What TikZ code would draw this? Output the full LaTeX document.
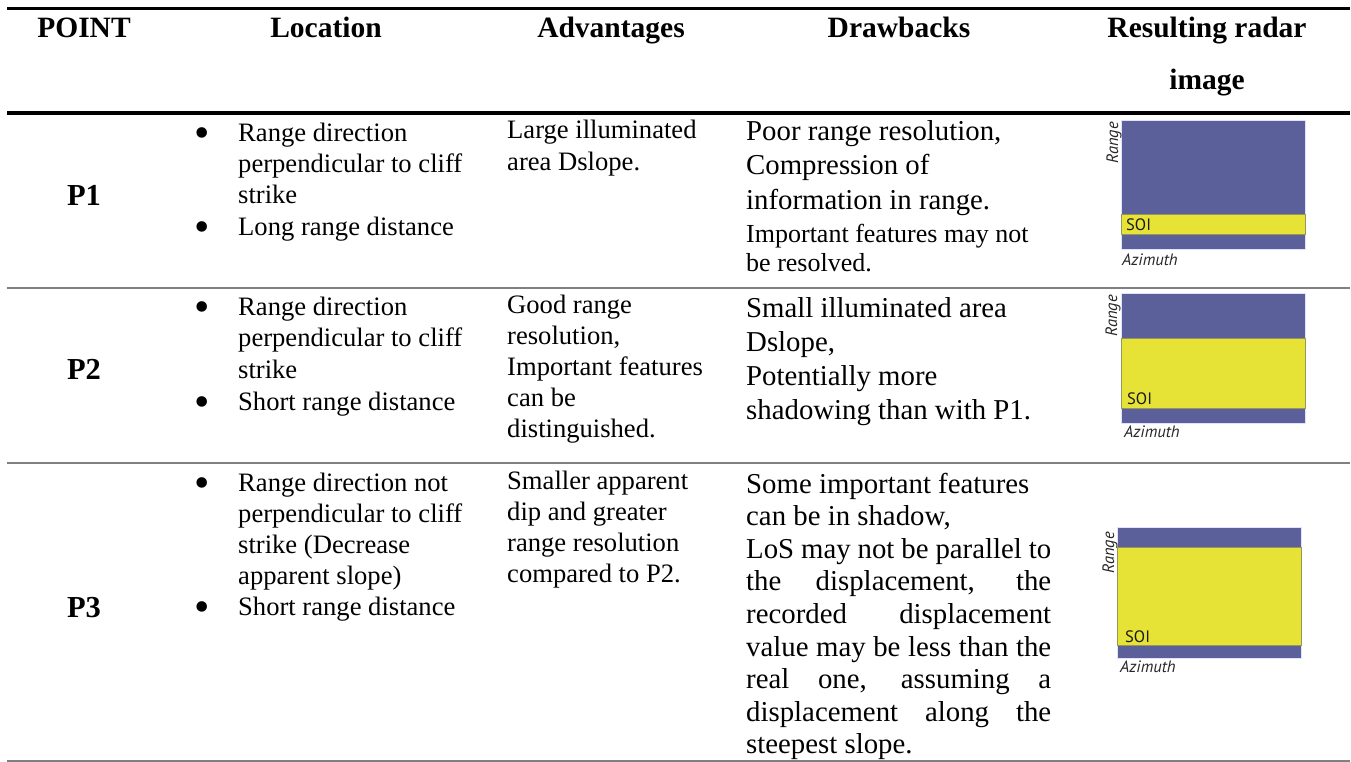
\documentclass[tikz,border=0pt]{standalone}
\usepackage{fontspec}
\setmainfont{Liberation Serif}
\newfontfamily\radarfont{PT Sans}
\definecolor{radarblue}{RGB}{91,96,155}
\definecolor{soiyellow}{RGB}{230,226,54}
\definecolor{rulegray}{RGB}{128,128,128}
\definecolor{bandline}{RGB}{150,150,90}
\tikzset{
  hdr/.style={font=\fontsize{29.5}{50}\selectfont\bfseries, anchor=base, inner sep=0},
  ptlabel/.style={font=\fontsize{30.5}{32}\selectfont\bfseries, anchor=base, inner sep=0},
  cell/.style={font=\fontsize{26.6}{31.4}\selectfont, anchor=base west, inner sep=0, align=left},
  dcell/.style={font=\fontsize{28.8}{34}\selectfont, anchor=base west, inner sep=0, align=left},
  bul/.style={font=\fontsize{44}{44}\selectfont, anchor=center, inner sep=0},
  thickrule/.style={line width=3.5pt},
  thinrule/.style={line width=2pt, draw=rulegray},
  radarbg/.style={fill=radarblue, draw=blue!12!white, line width=0.6pt},
  soiband/.style={fill=soiyellow, draw=bandline, line width=0.5pt},
  rlabel/.style={font=\radarfont\itshape\fontsize{16.5}{16.5}\selectfont, inner sep=0, text=black!85},
  soilabel/.style={font=\radarfont\fontsize{16.5}{16.5}\selectfont, inner sep=0, anchor=base west, text=black!90},
}
\begin{document}
\begin{tikzpicture}[x=1pt,y=-1pt]
\useasboundingbox (0,0) rectangle (1351,762);
% rules
\draw[thickrule] (7,8.5) -- (1350,8.5);
\draw[thickrule] (7,113) -- (1350,113);
\draw[thinrule] (7,288) -- (1350,288);
\draw[thinrule] (7,463) -- (1350,463);
\draw[thinrule] (7,761) -- (1350,761);
% header
\node[hdr] (hPoint) at (84,38) {POINT};
\node[hdr] (hLoc) at (326,38) {Location};
\node[hdr] (hAdv) at (611,38) {Advantages};
\node[hdr] (hDra) at (899,38) {Drawbacks};
\node[hdr] (hResA) at (1207,38) {Resulting radar};
\node[hdr] (hResB) at (1207,90) {image};
% row 1 (multi-line nodes are anchored at the baseline of their last line)
\node[ptlabel] (p1) at (84,205) {P1};
\node[bul] (b11) at (202,138) {\textbullet};
\node[bul] (b12) at (202,232) {\textbullet};
\node[cell] (loc1) at (238,235.2) {Range direction\\perpendicular to cliff\\strike\\Long range distance};
\node[cell, font=\fontsize{26.6}{32}\selectfont] (adv1) at (507,171) {Large illuminated\\area Dslope.};
\node[dcell, font=\fontsize{28.8}{34.5}\selectfont] (dra1) at (746,209) {Poor range resolution,\\Compression of\\information in range.};
\node[cell, font=\fontsize{26}{29}\selectfont] (dra1b) at (746,271) {Important features may not\\be resolved.};
% row 2
\node[ptlabel] (p2) at (84,379) {P2};
\node[bul] (b21) at (202,312) {\textbullet};
\node[bul] (b22) at (202,407) {\textbullet};
\node[cell, font=\fontsize{26.6}{31.7}\selectfont] (loc2) at (238,410.1) {Range direction\\perpendicular to cliff\\strike\\Short range distance};
\node[cell, font=\fontsize{26.6}{31}\selectfont] (adv2) at (507,437) {Good range\\resolution,\\Important features\\can be\\distinguished.};
\node[dcell] (dra2) at (746,419) {Small illuminated area\\Dslope,\\Potentially more\\shadowing than with P1.};
% row 3
\node[ptlabel] (p3) at (84,617) {P3};
\node[bul] (b31) at (202,488) {\textbullet};
\node[bul] (b32) at (202,612) {\textbullet};
\node[cell, font=\fontsize{26.6}{31}\selectfont] (loc3) at (238,615) {Range direction not\\perpendicular to cliff\\strike (Decrease\\apparent slope)\\Short range distance};
\node[cell, font=\fontsize{26.6}{31}\selectfont] (adv3) at (507,582) {Smaller apparent\\dip and greater\\range resolution\\compared to P2.};
\node[dcell, font=\fontsize{28.8}{32.6}\selectfont] (dra3) at (746,753.8) {Some important features\\can be in shadow,\\
\makebox[305pt][s]{LoS may not be parallel to}\\
\makebox[305pt][s]{the displacement, the}\\
\makebox[305pt][s]{recorded displacement}\\
\makebox[305pt][s]{value may be less than the}\\
\makebox[305pt][s]{real one, assuming a}\\
\makebox[305pt][s]{displacement along the}\\
steepest slope.};
% radar image 1
\path[radarbg] (1121,120) rectangle (1305,249);
\path[soiband] (1121,214) rectangle (1305,234);
\node[soilabel] (soi1) at (1126,230) {SOI};
\node[rlabel, rotate=90, anchor=base east] (rng1) at (1118,122) {Range};
\node[rlabel, anchor=base west] (azi1) at (1122,265) {Azimuth};
% radar image 2
\path[radarbg] (1121,293) rectangle (1305,423);
\path[soiband] (1121,338) rectangle (1305,408);
\node[soilabel] (soi2) at (1127,404) {SOI};
\node[rlabel, rotate=90, anchor=base east] (rng2) at (1117,295) {Range};
\node[rlabel, anchor=base west] (azi2) at (1124,437) {Azimuth};
% radar image 3
\path[radarbg] (1117,527) rectangle (1301,658);
\path[soiband] (1117,547) rectangle (1301,645);
\node[soilabel] (soi3) at (1125,642) {SOI};
\node[rlabel, rotate=90, anchor=base east] (rng3) at (1114,532) {Range};
\node[rlabel, anchor=base west] (azi3) at (1120,672) {Azimuth};
\end{tikzpicture}
\end{document}
